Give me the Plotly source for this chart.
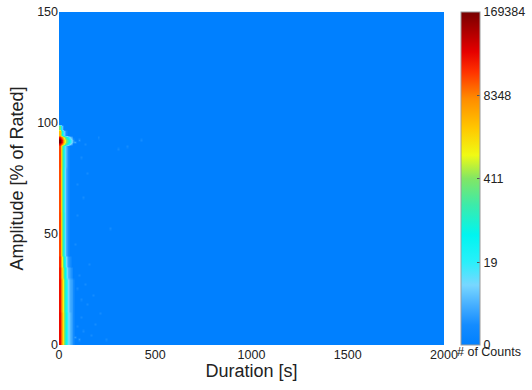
import numpy as np
import plotly.graph_objects as go

# Histogram bins: duration (s) and amplitude (% of rated)
DUR_STEP = 10
DUR_MAX = 2000
AMP_STEP = 1
AMP_MAX = 150

# Amplitude bands used to describe the populated duration columns
band_edges = [0, 15, 30, 35, 40, 60, 80, 90, 91, 93, 94, 97, 99]

# Counts per amplitude band for the first duration columns (column start in s)
col_000s = [35000, 32000, 28000, 22000, 16000, 15000, 16000, 40000, 169384, 30000, 3000, 300]
col_010s = [4000, 3000, 2000, 900, 400, 350, 400, 8000, 30000, 6000, 60, 5]
col_020s = [400, 300, 150, 70, 25, 20, 25, 800, 2500, 600, 6, 0]
col_030s = [45, 35, 18, 8, 3, 3, 4, 120, 400, 100, 1, 0]
col_040s = [10, 8, 4, 2, 1, 1, 1, 30, 100, 25, 0, 0]
col_050s = [4, 3, 2, 1, 0, 0, 0, 8, 25, 6, 0, 0]
col_060s = [2, 2, 1, 0, 0, 0, 0, 2, 6, 2, 0, 0]
col_070s = [1, 1, 0, 0, 0, 0, 0, 0, 2, 0, 0, 0]
column_starts = [0, 10, 20, 30, 40, 50, 60, 70]
columns = [col_000s, col_010s, col_020s, col_030s, col_040s, col_050s, col_060s, col_070s]

# Sparse isolated events further out in duration
speck_dur = [85, 95, 105, 115, 125, 140, 160, 185, 210, 240, 90, 100, 110, 130, 150,
             175, 80, 95, 120, 145, 260, 300, 85, 105, 135, 200, 350, 420, 90, 115]
speck_amp = [3, 8, 2, 12, 6, 18, 4, 9, 14, 2, 25, 31, 20, 27, 36,
             22, 45, 58, 66, 77, 52, 88, 91, 92, 90, 93, 89, 92, 72, 84]
speck_cnt = [2, 1, 2, 1, 1, 1, 1, 1, 1, 1, 1, 1, 1, 1, 1,
             1, 1, 1, 1, 1, 1, 1, 3, 2, 1, 1, 1, 1, 1, 1]

# Colour bar labels (counts)
cbar_labels = [0, 19, 411, 8348, 169384]
x_ticks = [0, 500, 1000, 1500, 2000]
y_ticks = [0, 50, 100, 150]

n_dur = DUR_MAX // DUR_STEP
n_amp = AMP_MAX // AMP_STEP
counts = np.zeros((n_amp, n_dur))
for start, col in zip(column_starts, columns):
    ci = start // DUR_STEP
    for lo, hi, c in zip(band_edges[:-1], band_edges[1:], col):
        counts[lo // AMP_STEP:hi // AMP_STEP, ci] = c
for d, a, c in zip(speck_dur, speck_amp, speck_cnt):
    counts[a // AMP_STEP, d // DUR_STEP] += c

x_centers = np.arange(n_dur) * DUR_STEP + DUR_STEP / 2
y_centers = np.arange(n_amp) * AMP_STEP + AMP_STEP / 2
z = np.log10(counts + 1)
zmax = np.log10(max(cbar_labels) + 1)

colorscale = [
    [0.00, "rgb(0,128,255)"],
    [0.06, "rgb(20,140,255)"],
    [0.12, "rgb(70,175,255)"],
    [0.18, "rgb(120,215,255)"],
    [0.25, "rgb(40,240,250)"],
    [0.33, "rgb(0,245,240)"],
    [0.42, "rgb(60,235,170)"],
    [0.50, "rgb(130,230,100)"],
    [0.57, "rgb(240,250,20)"],
    [0.65, "rgb(255,200,0)"],
    [0.74, "rgb(255,140,0)"],
    [0.82, "rgb(255,50,0)"],
    [0.88, "rgb(230,0,0)"],
    [1.00, "rgb(120,0,0)"],
]

fig = go.Figure(go.Heatmap(
    x=x_centers, y=y_centers, z=z,
    customdata=counts,
    hovertemplate="Duration %{x} s<br>Amplitude %{y}%<br>Counts %{customdata}<extra></extra>",
    zmin=0, zmax=zmax, zsmooth="best",
    colorscale=colorscale,
    colorbar=dict(
        x=1.044, xanchor="left", xpad=0,
        y=0.5, yanchor="middle", ypad=0, len=1, lenmode="fraction",
        thickness=19, outlinecolor="#9a9a9a", outlinewidth=1,
        tickvals=[np.log10(v + 1) for v in cbar_labels],
        ticktext=[str(v) for v in cbar_labels],
        ticks="inside", ticklen=3, tickcolor="#555",
        tickfont=dict(family="Liberation Sans, Arial", size=12.5, color="#222"),
    ),
))

axis_font = dict(family="Liberation Sans, Arial", size=12.5, color="#222")
title_font = dict(family="Liberation Sans, Arial", size=18, color="#222")

fig.update_layout(
    width=532, height=390,
    margin=dict(l=59, r=88, t=12, b=45, autoexpand=False),
    paper_bgcolor="white", plot_bgcolor="white",
    xaxis=dict(range=[0, DUR_MAX], tickvals=x_ticks, showgrid=False, zeroline=False,
               ticks="", tickfont=axis_font, automargin=False,
               title=dict(text="Duration [s]", font=title_font, standoff=2)),
    yaxis=dict(range=[0, AMP_MAX], tickvals=y_ticks, showgrid=False, zeroline=False,
               ticks="", tickfont=axis_font, automargin=False,
               title=dict(text="Amplitude [% of Rated]", font=title_font, standoff=8)),
    annotations=[dict(
        text="# of Counts", xref="paper", yref="paper",
        x=(455 - 59) / 385, y=-7 / 333, xanchor="left", yanchor="middle",
        showarrow=False, font=dict(family="Liberation Sans, Arial", size=12.5, color="#222"),
    )],
)

fig.write_html("out.html")
